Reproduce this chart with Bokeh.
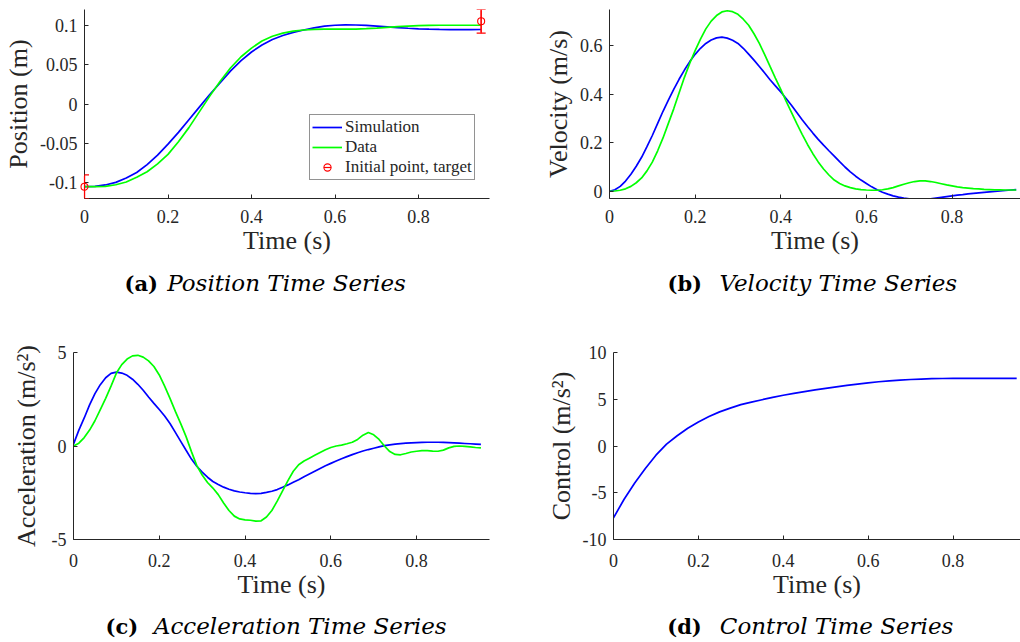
import numpy as np
from bokeh.plotting import figure
from bokeh.models import (FixedTicker, Range1d, Legend, LegendItem,
                          Whisker, TeeHead, ColumnDataSource)
from bokeh.core.properties import value
from bokeh.layouts import column, row
from bokeh.embed import file_html
from bokeh.resources import INLINE

# ---------------- data ----------------
time = [0.000, 0.025, 0.050, 0.075, 0.100, 0.125, 0.150, 0.175, 0.200, 0.225,
        0.250, 0.275, 0.300, 0.325, 0.350, 0.375, 0.400, 0.425, 0.450, 0.475,
        0.500, 0.525, 0.550, 0.575, 0.600, 0.625, 0.650, 0.675, 0.700, 0.725,
        0.750, 0.775, 0.800, 0.825, 0.850, 0.875, 0.900, 0.925, 0.950]

time_fine = [0.0, 0.0125, 0.025, 0.0375, 0.05, 0.0625, 0.075, 0.0875, 0.1, 0.1125,
             0.125, 0.1375, 0.15, 0.1625, 0.175, 0.1875, 0.2, 0.2125, 0.225, 0.2375,
             0.25, 0.2625, 0.275, 0.2875, 0.3, 0.3125, 0.325, 0.3375, 0.35, 0.3625,
             0.375, 0.3875, 0.4, 0.4125, 0.425, 0.4375, 0.45, 0.4625, 0.475, 0.4875,
             0.5, 0.5125, 0.525, 0.5375, 0.55, 0.5625, 0.575, 0.5875, 0.6, 0.6125,
             0.625, 0.6375, 0.65, 0.6625, 0.675, 0.6875, 0.7, 0.7125, 0.725, 0.7375,
             0.75, 0.7625, 0.775, 0.7875, 0.8, 0.8125, 0.825, 0.8375, 0.85, 0.8625,
             0.875, 0.8875, 0.9, 0.9125, 0.925, 0.9375, 0.95]

pos_sim = [-0.105, -0.1045, -0.1028, -0.0995, -0.094, -0.087, -0.077, -0.065, -0.051, -0.036,
           -0.020, -0.004, 0.012, 0.027, 0.042, 0.055, 0.066, 0.075, 0.082, 0.087,
           0.091, 0.094, 0.0967, 0.0988, 0.1, 0.1005, 0.1003, 0.0998, 0.099, 0.098,
           0.097, 0.0962, 0.0955, 0.095, 0.0947, 0.0945, 0.0945, 0.0945, 0.0946]
pos_data = [-0.105, -0.105, -0.1045, -0.1025, -0.099, -0.093, -0.086, -0.076, -0.064, -0.048,
            -0.030, -0.010, 0.010, 0.029, 0.046, 0.060, 0.071, 0.080, 0.086, 0.090,
            0.0925, 0.094, 0.0947, 0.095, 0.095, 0.095, 0.0952, 0.0956, 0.0963, 0.0973,
            0.0982, 0.099, 0.0995, 0.0998, 0.1, 0.1, 0.1, 0.1, 0.1]

vel_sim = [0.0, 0.006, 0.02, 0.042, 0.07, 0.103, 0.14, 0.184, 0.23, 0.28,
           0.33, 0.376, 0.42, 0.462, 0.50, 0.535, 0.565, 0.59, 0.61, 0.624,
           0.633, 0.636, 0.632, 0.623, 0.61, 0.59, 0.566, 0.541, 0.515, 0.488,
           0.46, 0.435, 0.41, 0.383, 0.355, 0.325, 0.295, 0.267, 0.24, 0.214,
           0.19, 0.167, 0.145, 0.122, 0.10, 0.08, 0.062, 0.046, 0.032, 0.018,
           0.006, -0.004, -0.012, -0.019, -0.024, -0.028, -0.031, -0.032, -0.033, -0.032,
           -0.031, -0.028, -0.025, -0.022, -0.019, -0.016, -0.014, -0.011, -0.009, -0.007,
           -0.005, -0.003, -0.001, 0.001, 0.003, 0.005, 0.007]
vel_data = [0.0, 0.001, 0.004, 0.01, 0.02, 0.035, 0.055, 0.084, 0.12, 0.167,
            0.22, 0.28, 0.34, 0.405, 0.47, 0.528, 0.58, 0.628, 0.67, 0.702,
            0.725, 0.74, 0.745, 0.741, 0.73, 0.71, 0.685, 0.65, 0.61, 0.564,
            0.515, 0.467, 0.42, 0.372, 0.325, 0.279, 0.235, 0.193, 0.155, 0.121,
            0.092, 0.067, 0.046, 0.032, 0.022, 0.015, 0.01, 0.007, 0.005, 0.004,
            0.004, 0.006, 0.01, 0.015, 0.022, 0.029, 0.035, 0.04, 0.043, 0.043,
            0.04, 0.036, 0.031, 0.026, 0.022, 0.018, 0.015, 0.013, 0.011, 0.0095,
            0.008, 0.007, 0.006, 0.0055, 0.005, 0.005, 0.005]

acc_sim = [0.1, 0.85, 1.5, 2.2, 2.8, 3.28, 3.65, 3.88, 3.95, 3.9,
           3.78, 3.57, 3.3, 2.98, 2.62, 2.28, 1.95, 1.6, 1.2, 0.73,
           0.25, -0.23, -0.7, -1.08, -1.4, -1.67, -1.9, -2.06, -2.2, -2.31,
           -2.4, -2.46, -2.5, -2.53, -2.55, -2.53, -2.48, -2.42, -2.33, -2.21,
           -2.08, -1.94, -1.8, -1.65, -1.5, -1.35, -1.2, -1.06, -0.93, -0.8,
           -0.68, -0.57, -0.46, -0.36, -0.27, -0.19, -0.12, -0.05, 0.02, 0.06,
           0.1, 0.13, 0.15, 0.17, 0.18, 0.19, 0.2, 0.2, 0.2, 0.19,
           0.18, 0.165, 0.15, 0.135, 0.12, 0.105, 0.09]
acc_data = [0.0, 0.15, 0.45, 0.85, 1.35, 1.95, 2.55, 3.2, 3.9, 4.35,
            4.65, 4.82, 4.85, 4.75, 4.55, 4.25, 3.8, 3.2, 2.55, 1.85,
            1.2, 0.5, -0.3, -1.05, -1.55, -1.95, -2.25, -2.6, -3.05, -3.45,
            -3.75, -3.9, -3.95, -3.97, -4.02, -4.0, -3.8, -3.45, -2.95, -2.4,
            -1.85, -1.35, -1.0, -0.8, -0.65, -0.5, -0.35, -0.2, -0.08, 0.0,
            0.05, 0.12, 0.2, 0.35, 0.58, 0.72, 0.6, 0.35, 0.0, -0.3,
            -0.45, -0.47, -0.4, -0.32, -0.28, -0.25, -0.25, -0.27, -0.28, -0.22,
            -0.1, -0.02, 0.0, -0.02, -0.05, -0.08, -0.1]

control = [-7.68, -5.7, -3.95, -2.4, -0.98, 0.2, 1.1, 1.9, 2.57, 3.15,
           3.65, 4.05, 4.42, 4.7, 4.95, 5.2, 5.43, 5.63, 5.82, 6.0,
           6.17, 6.33, 6.48, 6.62, 6.75, 6.87, 6.97, 7.05, 7.11, 7.16,
           7.2, 7.22, 7.23, 7.24, 7.24, 7.24, 7.24, 7.24, 7.24]

err_t = [0.0, 0.95]
err_pos = [-0.105, 0.105]
err_half = [0.015, 0.015]

x_ticks = [0, 0.2, 0.4, 0.6, 0.8]
x_tick_labels = ["0", "0.2", "0.4", "0.6", "0.8"]
pos_ticks = [-0.1, -0.05, 0, 0.05, 0.1]
pos_tick_labels = ["-0.1", "-0.05", "0", "0.05", "0.1"]
vel_ticks = [0, 0.2, 0.4, 0.6]
vel_tick_labels = ["0", "0.2", "0.4", "0.6"]
acc_ticks = [-5, 0, 5]
acc_tick_labels = ["-5", "0", "5"]
ctl_ticks = [-10, -5, 0, 5, 10]
ctl_tick_labels = ["-10", "-5", "0", "5", "10"]

x_title = "Time (s)"
y_titles = ["Position (m)", "Velocity (m/s)", "Acceleration (m/s\u00b2)", "Control (m/s\u00b2)"]
caption_tags = ["(a)", "(b)", "(c)", "(d)"]
caption_titles = ["Position Time Series", "Velocity Time Series",
                  "Acceleration Time Series", "Control Time Series"]
legend_labels = ["Simulation", "Data", "Initial point, target"]

# ---------------- styling ----------------
AX = "#262626"
BLUE = "#0000ff"
GREEN = "#00ff00"
RED = "#ff0000"
SERIF = "Liberation Serif"
LW = 1.7


def make_fig(w, h, xr, yr, yticks, ylabels, ytitle, borders, x_standoff=11, y_lab_standoff=4):
    left, right, top, bottom = borders
    p = figure(width=w, height=h, x_range=Range1d(*xr), y_range=Range1d(*yr),
               output_backend="svg", toolbar_location=None,
               min_border_left=left, min_border_right=right,
               min_border_top=top, min_border_bottom=bottom)
    p.outline_line_color = None
    p.grid.visible = False
    p.background_fill_color = "white"
    p.border_fill_color = "white"
    for ax in (p.xaxis[0], p.yaxis[0]):
        ax.axis_line_color = AX
        ax.axis_line_width = 1
        ax.major_tick_line_color = AX
        ax.major_tick_in = 4
        ax.major_tick_out = 0
        ax.minor_tick_line_color = None
        ax.major_label_text_font = SERIF
        ax.major_label_text_font_size = "18px"
        ax.major_label_text_color = AX
        ax.axis_label_text_font = SERIF
        ax.axis_label_text_font_style = "normal"
        ax.axis_label_text_font_size = "26px"
        ax.axis_label_text_color = AX
    p.xaxis[0].major_label_standoff = x_standoff
    p.xaxis[0].axis_label_standoff = 0
    p.yaxis[0].major_label_standoff = 7
    p.yaxis[0].axis_label_standoff = y_lab_standoff
    p.xaxis[0].ticker = FixedTicker(ticks=x_ticks)
    p.xaxis[0].major_label_overrides = {t: s for t, s in zip(x_ticks, x_tick_labels)}
    p.xaxis[0].axis_label = x_title
    p.yaxis[0].ticker = FixedTicker(ticks=yticks)
    p.yaxis[0].major_label_overrides = {t: s for t, s in zip(yticks, ylabels)}
    p.yaxis[0].axis_label = ytitle
    return p


def caption_fig(h, idx, x_tag, x_title_pos, y_base):
    # a strip whose data units are pixels, holding the sub-figure caption
    c = figure(width=510, height=h, x_range=Range1d(0, 510), y_range=Range1d(0, h),
               x_axis_type=None, y_axis_type=None, output_backend="svg",
               toolbar_location=None, min_border=0)
    c.outline_line_color = None
    c.text(x=[x_tag], y=[y_base], text=[caption_tags[idx]], text_font=value("DejaVu Serif"),
           text_font_style="bold", text_font_size="21px", text_color="black",
           text_baseline="alphabetic")
    c.text(x=[x_title_pos], y=[y_base], text=[caption_titles[idx]],
           text_font=value("DejaVu Serif"), text_font_style="italic",
           text_font_size="23px", text_color="black", text_baseline="alphabetic")
    return c


# (a) position
pa = make_fig(510, 270, (0, 0.97), (-0.12, 0.12), pos_ticks, pos_tick_labels, y_titles[0],
              (84, 21, 9, 72))
r_sim = pa.line(time, pos_sim, line_color=BLUE, line_width=LW)
r_dat = pa.line(time, pos_data, line_color=GREEN, line_width=LW)
err_src = ColumnDataSource(dict(
    t=err_t, y=err_pos,
    lo=[v - e for v, e in zip(err_pos, err_half)],
    hi=[v + e for v, e in zip(err_pos, err_half)]))
pa.add_layout(Whisker(base="t", lower="lo", upper="hi", source=err_src, dimension="height",
                      line_color=RED, line_width=1.2, level="overlay",
                      lower_head=TeeHead(size=9, line_color=RED, line_width=1.2),
                      upper_head=TeeHead(size=9, line_color=RED, line_width=1.2)))
r_bar = pa.scatter("t", "y", source=err_src, marker="dash", angle=np.pi / 2, size=22,
                   line_color=RED, line_width=1.2, level="overlay")
r_mk = pa.scatter("t", "y", source=err_src, marker="circle", size=7,
                  fill_color=None, line_color=RED, line_width=1.1, level="overlay")
legend = Legend(items=[LegendItem(label=legend_labels[0], renderers=[r_sim]),
                       LegendItem(label=legend_labels[1], renderers=[r_dat]),
                       LegendItem(label=legend_labels[2], renderers=[r_bar, r_mk])],
                location=(225, 18), orientation="vertical",
                label_text_font=SERIF, label_text_font_size="17px", label_text_color=AX,
                border_line_color=AX, border_line_width=1, background_fill_color="white",
                background_fill_alpha=1.0, padding=2, spacing=0, margin=0,
                glyph_width=30, glyph_height=18, label_height=18, label_standoff=3)
pa.add_layout(legend)

# (b) velocity
pb = make_fig(510, 270, (0, 0.96), (-0.03, 0.75), vel_ticks, vel_tick_labels, y_titles[1],
              (99, 0, 9, 72))
pb.line(time_fine, vel_sim, line_color=BLUE, line_width=LW)
pb.line(time_fine, vel_data, line_color=GREEN, line_width=LW)

# (c) acceleration
pc = make_fig(510, 280, (0, 0.97), (-5, 5), acc_ticks, acc_tick_labels, y_titles[2],
              (73, 21, 27, 66), x_standoff=14, y_lab_standoff=8)
pc.line(time_fine, acc_sim, line_color=BLUE, line_width=LW)
pc.line(time_fine, acc_data, line_color=GREEN, line_width=LW)

# (d) control
pd_ = make_fig(510, 280, (0, 0.959), (-10, 10), ctl_ticks, ctl_tick_labels, y_titles[3],
               (103, 0, 27, 66), x_standoff=14)
pd_.line(time, control, line_color=BLUE, line_width=LW)

cap_a = caption_fig(55, 0, 124, 166.7, 42.5)
cap_b = caption_fig(55, 1, 157, 209, 42.5)
cap_c = caption_fig(37, 2, 105, 153.3, 16.2)
cap_d = caption_fig(37, 3, 156.7, 209.3, 16.2)

layout = column(row(pa, pb), row(cap_a, cap_b), row(pc, pd_), row(cap_c, cap_d))
open("out.html", "w").write(file_html(layout, INLINE))
